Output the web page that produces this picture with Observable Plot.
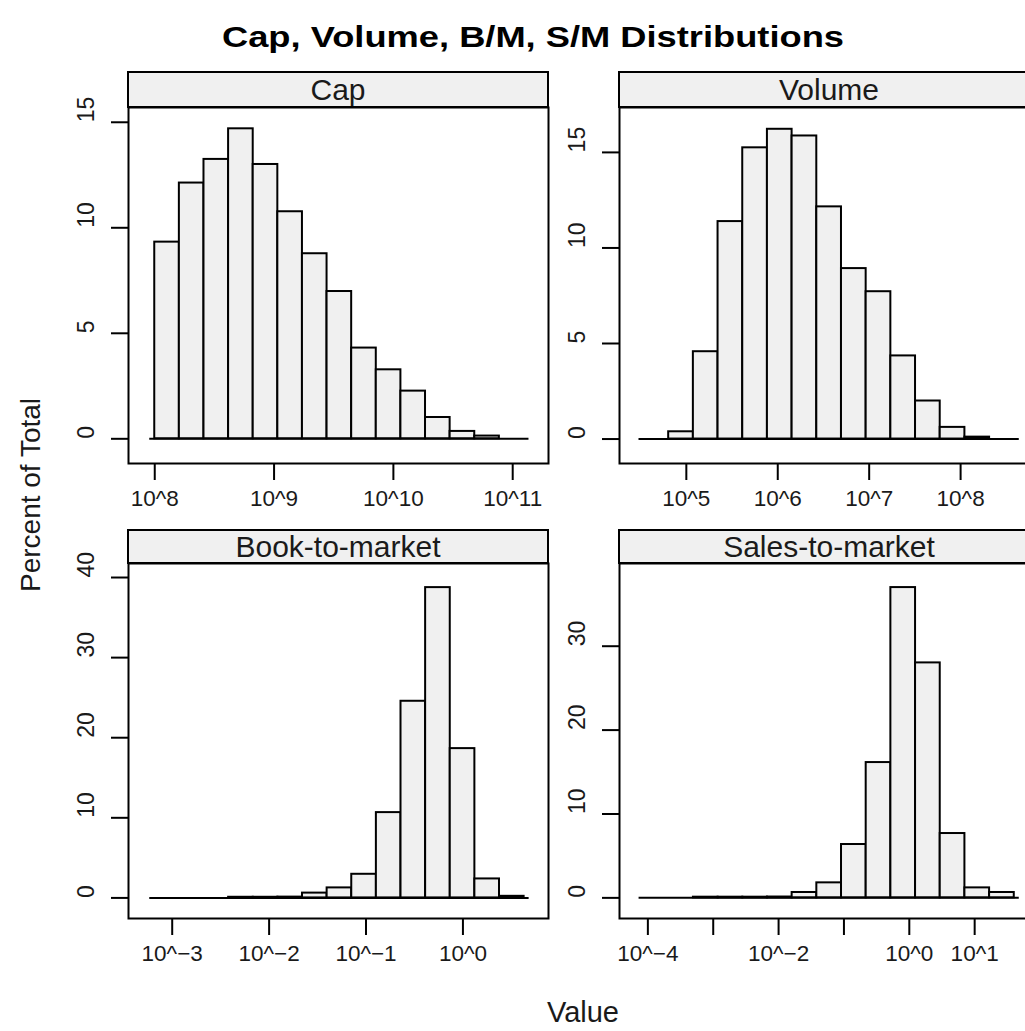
<!DOCTYPE html>
<html>
<head>
<meta charset="utf-8">
<script src="https://cdn.jsdelivr.net/npm/d3@7"></script>
<script src="https://cdn.jsdelivr.net/npm/@observablehq/plot@0.6"></script>
<style>
  html, body { margin: 0; padding: 0; background: #fff; overflow: hidden; }
  #page { position: relative; width: 1025px; height: 1031px; overflow: hidden; background: #fff;
          font-family: "Liberation Sans", Arial, Helvetica, sans-serif; color: #1a1a1a; }
  .strip { position: absolute; box-sizing: border-box; border: 2px solid #000; background: #f0f0f0;
           text-align: center; font-size: 30px; color: #1a1a1a; }
</style>
</head>
<body>
<div id="page"></div>
<script>
// ---------------- data ----------------
const panelNames = ["Cap", "Volume", "Book-to-market", "Sales-to-market"];

// percent of total per bin (15 equal bins in log10 space)
const capPct    = [9.32, 12.12, 13.24, 14.69, 13.0, 10.76, 8.77, 6.98, 4.30, 3.27, 2.26, 1.01, 0.35, 0.13, 0];
const volumePct = [0, 0.38, 4.57, 11.38, 15.24, 16.21, 15.86, 12.15, 8.92, 7.71, 4.35, 1.99, 0.61, 0.1, 0];
const bmPct     = [0, 0, 0, 0.08, 0.08, 0.1, 0.6, 1.25, 2.95, 10.65, 24.55, 38.74, 18.64, 2.37, 0.2];
const smPct     = [0, 0, 0.08, 0.08, 0.08, 0.1, 0.64, 1.79, 6.36, 16.13, 36.99, 28.01, 7.67, 1.19, 0.64];

// bin start and width (log10 units)
const binStartLog = [8.0, 4.537, -3.180, -4.058];
const binWidthLog = [0.2063, 0.270, 0.2541, 0.3776];

// axis domains
const xDomainLog = [[7.780, 11.300], [4.269, 8.863], [-3.451, 0.883], [-4.434, 1.992]];
const yDomains   = [[-1.17, 15.70], [-1.28, 17.35], [-2.57, 41.75], [-2.46, 39.86]];

// ticks
const xTickExp    = [[8, 9, 10, 11], [5, 6, 7, 8], [-3, -2, -1, 0], [-4, -3, -2, -1, 0, 1]];
const xTickLabels = [["10^8", "10^9", "10^10", "10^11"],
                     ["10^5", "10^6", "10^7", "10^8"],
                     ["10^\u22123", "10^\u22122", "10^\u22121", "10^0"],
                     ["10^\u22124", "", "10^\u22122", "", "10^0", "10^1"]];
const yTicks = [[0, 5, 10, 15], [0, 5, 10, 15], [0, 10, 20, 30, 40], [0, 10, 20, 30]];

const titleText = "Cap, Volume, B/M, S/M Distributions";
const yLabel = "Percent of Total";
const xLabel = "Value";

// ---------------- layout ----------------
const pctSeries = [capPct, volumePct, bmPct, smPct];
const frameLeft = [128, 619, 128, 619];
const stripTop  = [71, 71, 529, 529];
const plotTop   = [107, 107, 563, 563];
const plotBot   = [463, 463, 918, 918];
const frameW = 420;
const mL = 70, mR = 10, mB = 60;
const FONT = '"Liberation Sans", Arial, Helvetica, sans-serif';

const page = document.getElementById("page");

// Title
const tsvg = d3.create("svg").attr("width", 1025).attr("height", 60)
  .style("position", "absolute").style("left", "0px").style("top", "0px");
tsvg.append("text").attr("x", 533).attr("y", 47).attr("text-anchor", "middle")
  .attr("font-family", FONT).attr("font-weight", "bold").attr("font-size", 29)
  .attr("fill", "#000").attr("textLength", 622).attr("lengthAdjust", "spacingAndGlyphs")
  .text(titleText);
page.appendChild(tsvg.node());

for (let p = 0; p < 4; p++) {
  const vals = pctSeries[p];
  const s = binStartLog[p], w = binWidthLog[p];
  const bins = vals.map((v, i) => ({x1: 10 ** (s + i * w), x2: 10 ** (s + (i + 1) * w), v}));
  const plotH = plotBot[p] - plotTop[p];
  const chart = Plot.plot({
    width: mL + frameW + mR,
    height: plotH + mB,
    marginLeft: mL, marginRight: mR, marginTop: 0, marginBottom: mB,
    x: {type: "log", domain: xDomainLog[p].map(d => 10 ** d), axis: null},
    y: {domain: yDomains[p], axis: null},
    style: {fontFamily: FONT, overflow: "visible", background: "transparent", color: "#000"},
    marks: [
      Plot.rectY(bins.filter(b => b.v > 0), {x1: "x1", x2: "x2", y: "v", fill: "#f0f0f0", stroke: "#000", strokeWidth: 2}),
      Plot.ruleY([0], {x1: 10 ** s, x2: 10 ** (s + vals.length * w), stroke: "#000", strokeWidth: 2, insetLeft: -5, insetRight: -5}),
      Plot.frame({stroke: "#000", strokeWidth: 2}),
      Plot.axisX(xTickExp[p].map(e => 10 ** e), {anchor: "bottom", tickSize: 17, tickFormat: () => "", label: null, stroke: "#000", strokeWidth: 2}),
      Plot.axisY(yTicks[p], {anchor: "left", tickSize: 17, tickFormat: () => "", label: null, stroke: "#000", strokeWidth: 2}),
      Plot.text(xTickExp[p], {x: d => 10 ** d, text: (d, i) => xTickLabels[p][i], frameAnchor: "bottom", dy: 42, fontSize: 22.5, fill: "#1a1a1a"}),
      Plot.text(yTicks[p], {y: d => d, text: d => String(d), frameAnchor: "left", dx: -42, rotate: -90, fontSize: 23, fill: "#1a1a1a"})
    ]
  });
  chart.style.position = "absolute";
  chart.style.left = (frameLeft[p] - mL) + "px";
  chart.style.top = plotTop[p] + "px";
  page.appendChild(chart);

  const strip = document.createElement("div");
  strip.className = "strip";
  strip.style.left = (frameLeft[p] - 1) + "px";
  strip.style.top = stripTop[p] + "px";
  strip.style.width = (frameW + 2) + "px";
  strip.style.height = (plotTop[p] - stripTop[p] + 1) + "px";
  strip.style.lineHeight = (plotTop[p] - stripTop[p] - 3) + "px";
  strip.textContent = panelNames[p];
  page.appendChild(strip);
}

// Axis labels
const lsvg = d3.create("svg").attr("width", 1025).attr("height", 1031)
  .style("position", "absolute").style("left", "0px").style("top", "0px").style("pointer-events", "none");
lsvg.append("text").attr("transform", "translate(40,495) rotate(-90)").attr("text-anchor", "middle")
  .attr("font-family", FONT).attr("font-size", 28).attr("fill", "#1a1a1a").text(yLabel);
lsvg.append("text").attr("x", 583).attr("y", 1022).attr("text-anchor", "middle")
  .attr("font-family", FONT).attr("font-size", 29).attr("fill", "#1a1a1a").text(xLabel);
page.appendChild(lsvg.node());
</script>
</body>
</html>
